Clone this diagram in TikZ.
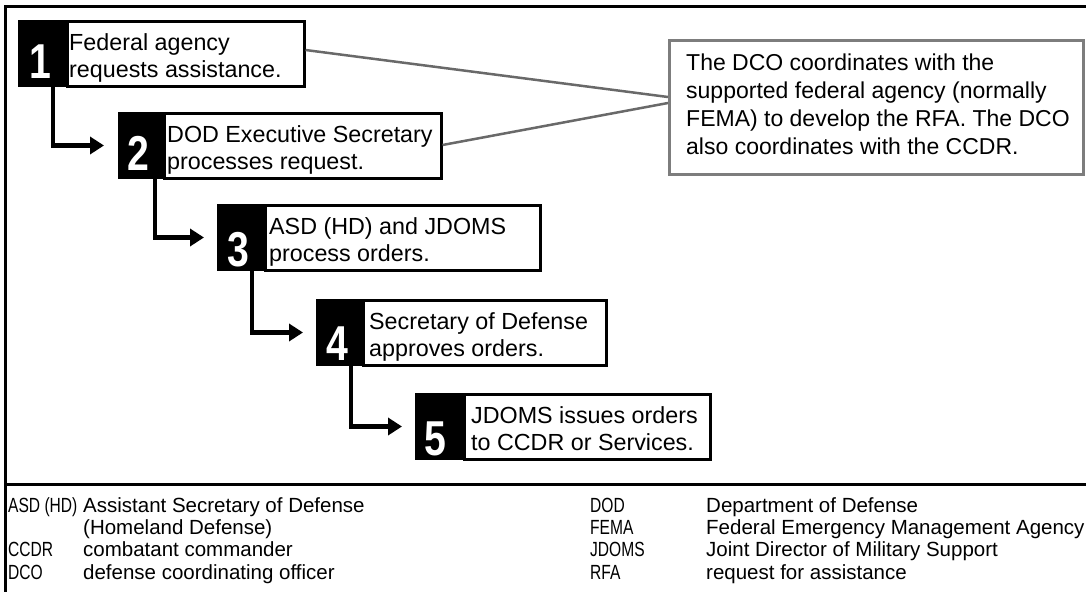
\documentclass[tikz,border=0pt]{standalone}
\usepackage{fontspec}
\setmainfont{Liberation Sans}
\usetikzlibrary{arrows.meta}
\definecolor{linkgray}{RGB}{105,105,105}
\definecolor{notegray}{RGB}{125,125,125}
\newcommand{\abbr}[1]{\scalebox{0.76}[1]{#1}}
\begin{document}
\begin{tikzpicture}[x=1pt,y=-1pt,
  blk/.style={fill=black,draw=black,line width=2pt,minimum width=46pt,minimum height=65pt,anchor=north west,inner sep=0pt},
  wbox/.style={fill=white,draw=black,line width=2.5pt,minimum height=65pt,anchor=north west,inner sep=0pt},
  btxt/.style={anchor=north west,inner sep=0pt,align=left,font=\fontsize{23.3}{27.5}\selectfont},
  num/.style={anchor=base,inner sep=0pt,text=white,font=\fontsize{49}{49}\selectfont\bfseries},
  flow/.style={line width=4.5pt,-{Triangle[length=14pt,width=17pt]}},
  link/.style={draw=linkgray,line width=2.5pt},
  notebox/.style={draw=notegray,line width=2.5pt,fill=white,anchor=north west,inner sep=0pt,minimum width=414pt,minimum height=134pt},
  ntxt/.style={anchor=north west,inner sep=0pt,align=left,font=\fontsize{23}{28}\selectfont},
  leg/.style={anchor=base west,inner sep=0pt,font=\fontsize{20.5}{22}\selectfont},
  frame/.style={line width=3pt}
]
\useasboundingbox (0,0) rectangle (1086,592);
% frame
\coordinate (ftr) at (1086,6.5);
\coordinate (ftl) at (5.5,6.5);
\coordinate (fbl) at (5.5,592);
\coordinate (dl) at (5.5,484.5);
\coordinate (dr) at (1086,484.5);
\draw[frame] (ftr) -- (ftl) -- (fbl);
\draw[frame] (dl) -- (dr);

% note
\node[notebox] (note) at (668,39) {};
\node[ntxt] (notetext) at (686,54) {The DCO coordinates with the\\supported federal agency (normally\\FEMA) to develop the RFA. The DCO\\also coordinates with the CCDR.};

% boxes
\node[blk] (b1) at (18,20) {};
\node[wbox,minimum width=237pt] (w1) at (66,20) {};
\node[btxt] (t1) at (69,33) {Federal agency\\requests assistance.};
\node[num] (n1) at (40,78) {\scalebox{0.8}[1]{1}};

\node[blk] (b2) at (118,112) {};
\node[wbox,minimum width=277pt] (w2) at (163,112) {};
\node[btxt] (t2) at (167,125) {DOD Executive Secretary\\processes request.};
\node[num] (n2) at (138,170) {\scalebox{0.8}[1]{2}};

\node[blk] (b3) at (217,204) {};
\node[wbox,minimum width=275pt] (w3) at (264,204) {};
\node[btxt] (t3) at (269,217) {ASD (HD) and JDOMS\\process orders.};
\node[num] (n3) at (238,266) {\scalebox{0.8}[1]{3}};

\node[blk] (b4) at (316,299) {};
\node[wbox,minimum width=243pt] (w4) at (362,299) {};
\node[btxt] (t4) at (369,312) {Secretary of Defense\\approves orders.};
\node[num] (n4) at (337,360) {\scalebox{0.8}[1]{4}};

\node[blk] (b5) at (415,393) {};
\node[wbox,minimum width=246pt] (w5) at (463,393) {};
\node[btxt] (t5) at (471,406) {JDOMS issues orders\\to CCDR or Services.};
\node[num] (n5) at (435,455) {\scalebox{0.8}[1]{5}};

% gray links
\draw[link] ([yshift=-30pt]w1.north east) -- ([yshift=-58pt]note.north west);
\draw[link] ([yshift=-33pt]w2.north east) -- ([yshift=-64pt]note.north west);

% flow arrows
\draw[flow] ([xshift=35pt]b1.south west) |- ([xshift=-14pt]b2.west);
\draw[flow] ([xshift=37pt]b2.south west) |- ([xshift=-13pt]b3.west);
\draw[flow] ([xshift=35pt]b3.south west) |- ([xshift=-13pt]b4.west);
\draw[flow] ([xshift=35pt]b4.south west) |- ([xshift=-13pt]b5.west);

% legend
\node[leg] (a1) at (8,512) {\abbr{ASD (HD)}};
\node[leg] (d1) at (83,512) {Assistant Secretary of Defense};
\node[leg] (d1b) at (83,534) {(Homeland Defense)};
\node[leg] (a2) at (8,556) {\abbr{CCDR}};
\node[leg] (d2) at (83,556) {combatant commander};
\node[leg] (a3) at (8,579) {\abbr{DCO}};
\node[leg] (d3) at (83,579) {defense coordinating officer};
\node[leg] (a4) at (590,512) {\abbr{DOD}};
\node[leg] (d4) at (706,512) {Department of Defense};
\node[leg] (a5) at (590,534) {\abbr{FEMA}};
\node[leg] (d5) at (706,534) {Federal Emergency Management Agency};
\node[leg] (a6) at (590,556) {\abbr{JDOMS}};
\node[leg] (d6) at (706,556) {Joint Director of Military Support};
\node[leg] (a7) at (590,579) {\abbr{RFA}};
\node[leg] (d7) at (706,579) {request for assistance};
\end{tikzpicture}
\end{document}
